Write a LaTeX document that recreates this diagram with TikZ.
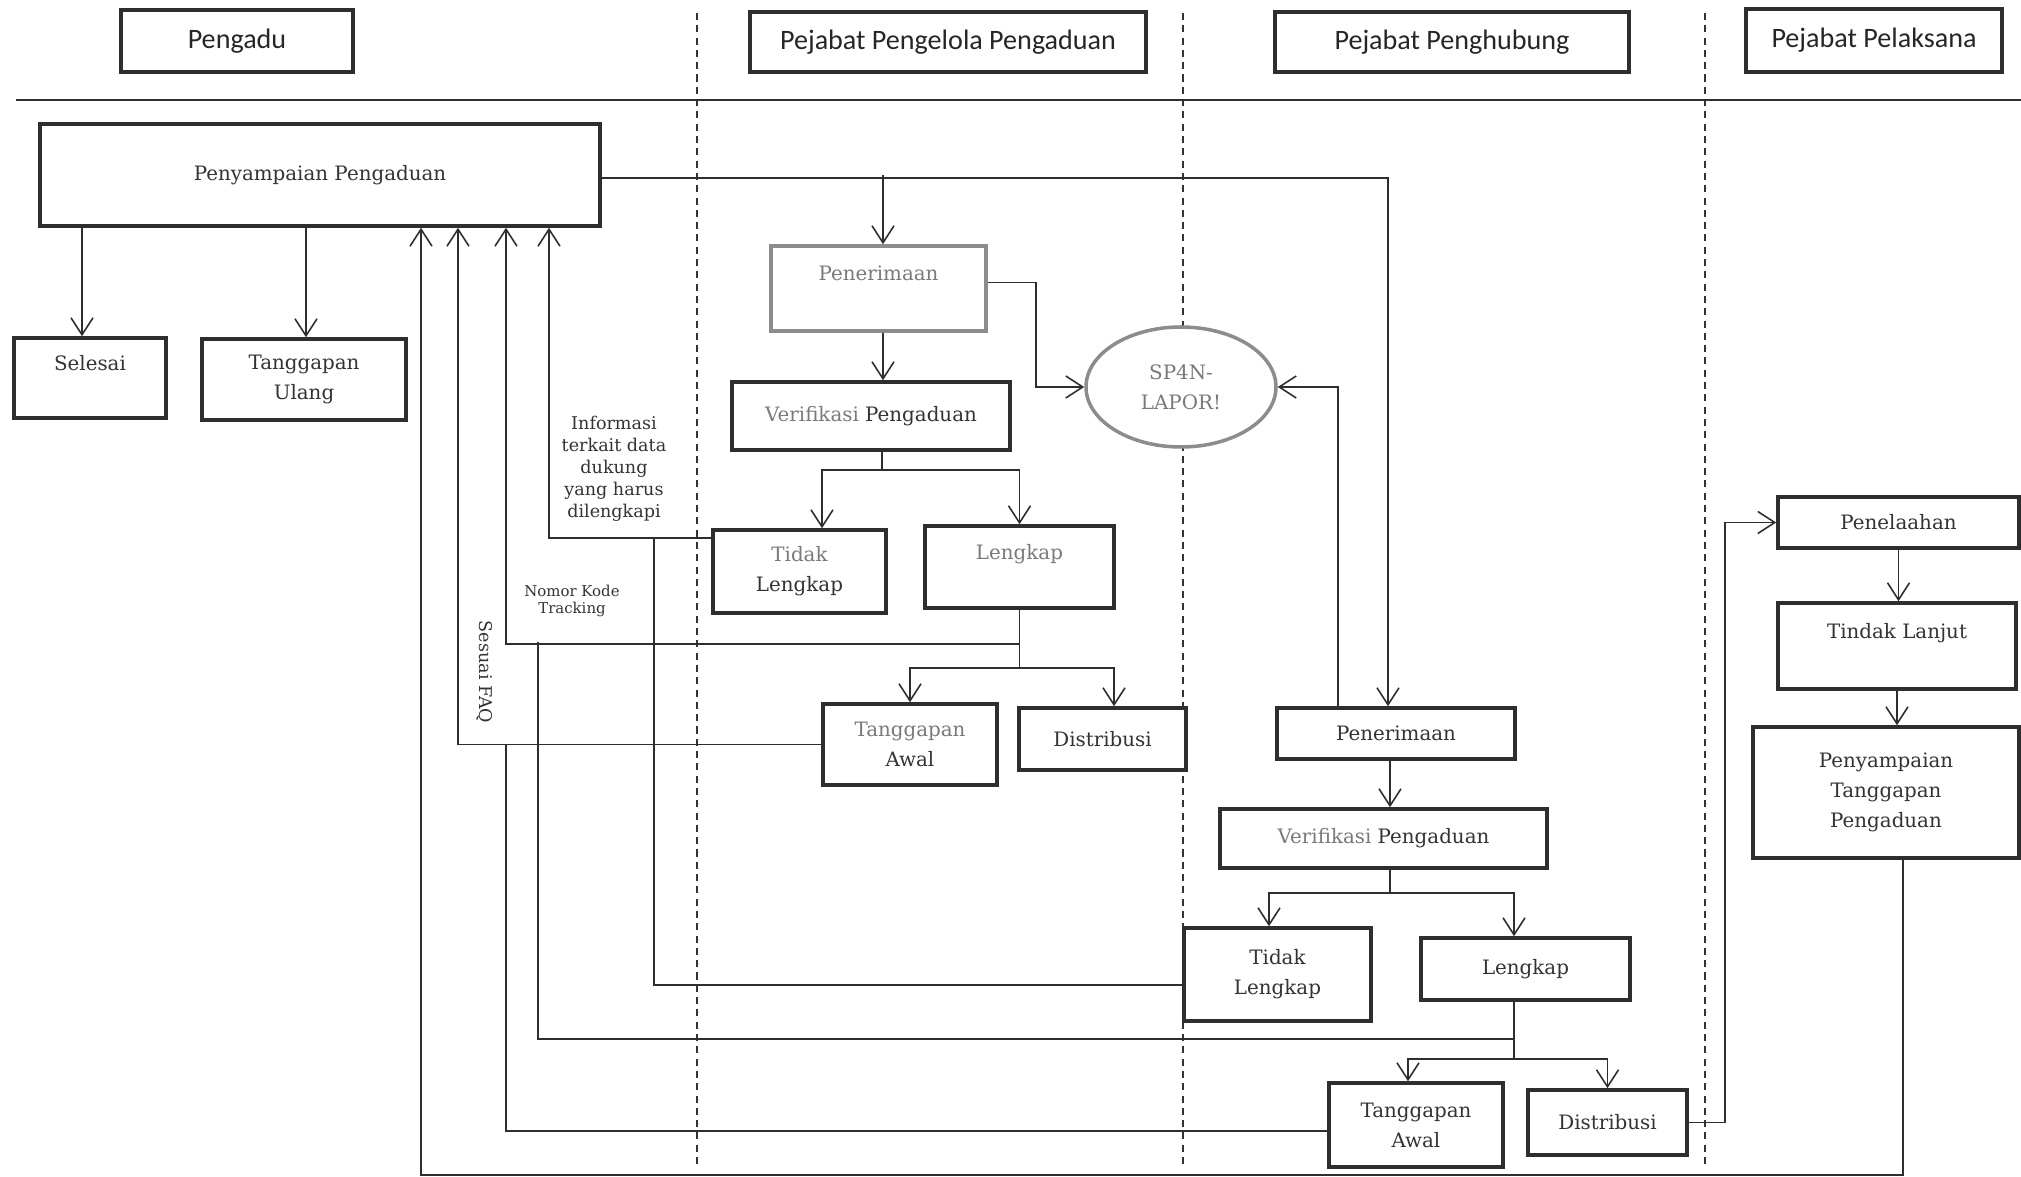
\documentclass[tikz,border=0pt]{standalone}
\usepackage{fontspec}
\setmainfont{DejaVu Serif}
\newfontfamily\judulfont{Carlito}
\usepackage{tikz}
\usetikzlibrary{arrows.meta,shapes.geometric}
\definecolor{GarisGelap}{HTML}{2E2E2E}
\definecolor{GarisPudar}{HTML}{8C8C8C}
\definecolor{TeksPudar}{HTML}{7A7A7A}

\tikzset{
  judul/.style={draw=GarisGelap, line width=2pt, fill=white, inner sep=0pt,
    font=\judulfont\fontsize{16}{19}\selectfont, text=black!85},
  kotak/.style={draw=GarisGelap, line width=2pt, fill=white, inner sep=0pt,
    align=center, font=\fontsize{11.3}{17}\selectfont, text=black!80},
  pudar/.style={draw=GarisPudar, text=TeksPudar},
  panah/.style={draw=GarisGelap, line width=0.9pt,
    -{Straight Barb[length=3.4mm,width=4.4mm]}},
  garis/.style={draw=GarisGelap, line width=0.9pt},
  pemisah/.style={draw=black!80, line width=0.6pt, dash pattern=on 4pt off 3pt},
  catatan/.style={inner sep=0pt, align=center, text=black!80}
}

\begin{document}
\begin{tikzpicture}[x=0.2mm,y=-0.2mm]
  \useasboundingbox (0,0) rectangle (2021,1177);

  \draw[pemisah] (697,13) -- (697,1167);
  \draw[pemisah] (1183,13) -- (1183,1167);
  \draw[pemisah] (1705,13) -- (1705,1167);
  \draw[draw=GarisGelap, line width=1.1pt] (16,100) -- (2021,100);

  \node[judul, minimum width=46.4mm, minimum height=12.4mm] (hPengadu) at (237,41) {Pengadu};
  \node[judul, minimum width=79.2mm, minimum height=12mm] (hPengelola) at (948,42) {Pejabat Pengelola Pengaduan};
  \node[judul, minimum width=70.8mm, minimum height=12mm] (hPenghubung) at (1452,42) {Pejabat Penghubung};
  \node[judul, minimum width=51.2mm, minimum height=12.6mm] (hPelaksana) at (1874,40.5) {Pejabat Pelaksana};

  \node[kotak, minimum width=112mm, minimum height=20.4mm] (penyampaian) at (320,175) {Penyampaian Pengaduan};
  \node[kotak, minimum width=30.4mm, minimum height=16mm] (selesai) at (90,378) {Selesai\\~};
  \node[kotak, minimum width=40.8mm, minimum height=16.2mm] (tUlang) at (304,379.5) {Tanggapan\\Ulang};

  \node[kotak, pudar, minimum width=43mm, minimum height=17mm] (terima1) at (878.5,288.5) {Penerimaan\\~};
  \node[kotak, minimum width=55.6mm, minimum height=13.6mm] (verif1) at (871,416) {{\color{TeksPudar}Verifikasi} Pengaduan};
  \node[kotak, pudar, ellipse, minimum width=38mm, minimum height=24mm] (sp4n) at (1181,387) {SP4N-\\LAPOR!};
  \node[kotak, minimum width=34.6mm, minimum height=16.6mm] (tidak1) at (799.5,571.5) {{\color{TeksPudar}Tidak}\\Lengkap};
  \node[kotak, minimum width=37.8mm, minimum height=16.4mm, text=TeksPudar] (lengkap1) at (1019.5,567) {Lengkap\\~};
  \node[kotak, minimum width=34.8mm, minimum height=16.2mm] (tAwal1) at (910,744.5) {{\color{TeksPudar}Tanggapan}\\Awal};
  \node[kotak, minimum width=33.4mm, minimum height=12.4mm] (distrib1) at (1102.5,739) {Distribusi};

  \node[kotak, minimum width=47.6mm, minimum height=10.2mm] (terima2) at (1396,733.5) {Penerimaan};
  \node[kotak, minimum width=65.4mm, minimum height=11.8mm] (verif2) at (1383.5,838.5) {{\color{TeksPudar}Verifikasi} Pengaduan};
  \node[kotak, minimum width=37.4mm, minimum height=18.6mm] (tidak2) at (1277.5,974.5) {Tidak\\Lengkap};
  \node[kotak, minimum width=41.8mm, minimum height=12.4mm] (lengkap2) at (1525.5,969) {Lengkap};
  \node[kotak, minimum width=34.8mm, minimum height=16.8mm] (tAwal2) at (1416,1125) {Tanggapan\\Awal};
  \node[kotak, minimum width=31.8mm, minimum height=13mm] (distrib2) at (1607.5,1122.5) {Distribusi};

  \node[kotak, minimum width=48.2mm, minimum height=10.2mm] (penelaahan) at (1898.5,522.5) {Penelaahan};
  \node[kotak, minimum width=47.6mm, minimum height=17.2mm] (tindak) at (1897,646) {Tindak Lanjut\\~};
  \node[kotak, minimum width=53.2mm, minimum height=26.2mm] (ptp) at (1886,792.5) {Penyampaian\\Tanggapan\\Pengaduan};

  \node[catatan, font=\fontsize{10}{12.5}\selectfont] (infoLbl) at (614,469) {Informasi\\terkait data\\dukung\\yang harus\\dilengkapi};
  \node[catatan, font=\fontsize{8.5}{10.2}\selectfont] (nomorLbl) at (572,601) {Nomor Kode\\Tracking};
  \node[catatan, font=\fontsize{10}{12}\selectfont, rotate=-90] (faqLbl) at (485,672) {Sesuai FAQ};

  \coordinate (gabung1) at (654,538);
  \coordinate (gabung2) at (538,642);
  \coordinate (gabung3) at (506,744.5);

  \draw[panah] ([xshift=-47.6mm]penyampaian.south) -- ([xshift=-47.6mm]penyampaian.south |- selesai.north);
  \draw[panah] ([xshift=-2.8mm]penyampaian.south) -- ([xshift=-2.8mm]penyampaian.south |- tUlang.north);
  \draw[panah] ([yshift=-0.6mm]penyampaian.east) -| ([xshift=-1.6mm]terima2.north);
  \draw[panah] ([xshift=0.9mm]terima1.north |- penyampaian.east) -- ([xshift=0.9mm]terima1.north);
  \draw[panah] ([xshift=0.9mm]terima1.south) -- ([xshift=0.9mm]terima1.south |- verif1.north);
  \draw[panah] ([yshift=1.2mm]terima1.east) -- ++(48,0) |- (sp4n.west);
  \draw[panah] ([xshift=-11.6mm]terima2.north) |- (sp4n.east);

  \draw[garis] ([xshift=2.2mm]verif1.south) -- ++(0,18) coordinate (cabang1);
  \draw[panah] (cabang1) -| ([xshift=4.5mm]tidak1.north);
  \draw[panah] (cabang1) -| (lengkap1.north);
  \draw[panah] ([yshift=6.7mm]tidak1.west) -| ([xshift=45.8mm]penyampaian.south);
  \draw[garis] (lengkap1.south) -- ++(0,58) coordinate (cabang2);
  \draw[panah] (lengkap1.south) ++(0,34) -| ([xshift=37.2mm]penyampaian.south);
  \draw[panah] (cabang2) -| (tAwal1.north);
  \draw[panah] (cabang2) -| ([xshift=2.3mm]distrib1.north);
  \draw[panah] (tAwal1.west) -| ([xshift=27.6mm]penyampaian.south);

  \draw[panah] ([xshift=-1.2mm]terima2.south) -- ([xshift=-1.2mm]terima2.south |- verif2.north);
  \draw[garis] ([xshift=1.3mm]verif2.south) -- ++(0,23) coordinate (cabang3);
  \draw[panah] (cabang3) -| ([xshift=-1.7mm]tidak2.north);
  \draw[panah] (cabang3) -| ([xshift=-2.3mm]lengkap2.north);
  \draw[garis] ([yshift=-2.1mm]tidak2.west) -| (gabung1);
  \draw[garis] ([xshift=-2.3mm]lengkap2.south) -- ++(0,37) -| (gabung2);
  \draw[garis] ([xshift=-2.3mm]lengkap2.south) -- ++(0,57) coordinate (cabang4);
  \draw[panah] (cabang4) -| ([xshift=-1.6mm]tAwal2.north);
  \draw[panah] (cabang4) -| (distrib2.north);
  \draw[garis] ([yshift=-1.2mm]tAwal2.west) -| (gabung3);
  \draw[panah] (distrib2.east) -- ++(36,0) |- (penelaahan.west);

  \draw[panah] (penelaahan.south) -- (penelaahan.south |- tindak.north);
  \draw[panah] (tindak.south) -- (tindak.south |- ptp.north);
  \draw[panah] ([xshift=3.4mm]ptp.south) -- ++(0,315) -| ([xshift=20.2mm]penyampaian.south);
\end{tikzpicture}
\end{document}
